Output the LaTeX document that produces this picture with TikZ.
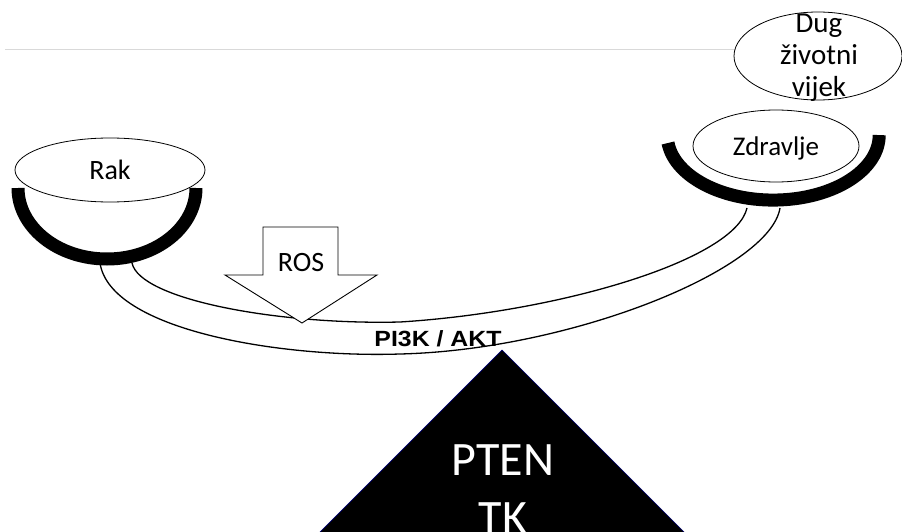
\documentclass[tikz,border=0pt]{standalone}
\usepackage{fontspec}
\setmainfont{Carlito}
\newfontfamily\arialfont{Liberation Sans}
\usetikzlibrary{shapes.geometric}

\begin{document}
\begin{tikzpicture}[
    x=1pt, y=-1pt,
    bubble/.style={draw, ellipse, inner sep=0pt, line width=0.8pt, font=\fontsize{28}{32}\selectfont},
    bowl/.style={line width=13pt},
    beam/.style={line width=1.3pt},
    txt/.style={inner sep=0pt, font=\fontsize{28}{32}\selectfont}
]
    \useasboundingbox (0,0) rectangle (902,532);
    \clip (0,0) rectangle (902,532);

    % faint line at the top
    \draw[black!15, line width=0.8pt] (5,49) -- (735,49);

    % left pan
    \node[bubble, minimum width=190pt, minimum height=64pt] (rak) at (110,170) {Rak};
    \draw[bowl] (18,188) arc[start angle=180, end angle=360, x radius=89pt, y radius=71pt];

    % right pan
    \node[bubble, minimum width=166pt, minimum height=72pt, text depth=0pt, font=\fontsize{27}{32}\selectfont] (health) at (776,146) {Zdravlje};
    \draw[bowl] (668,143) arc[start angle=187, end angle=360, x radius=106pt, y radius=65pt];
    \node[bubble, minimum width=168pt, minimum height=88pt] (longlife) at (818,56) {};
    \node[txt, font=\fontsize{29}{32}\selectfont, align=center, anchor=north] (longlifetext) at (819,14) {Dug\\životni\\vijek};

    % beam
    \draw[beam] (132,263) .. controls (140,300) and (280,325) .. (400,322)
                .. controls (560,312) and (735,260) .. (747,208);
    \draw[beam] (100,263) .. controls (110,330) and (280,358) .. (400,354)
                .. controls (570,350) and (770,270) .. (780,208);
    \node[inner sep=0pt, font=\arialfont\bfseries\fontsize{22}{26}\selectfont] (pathway) at (438,339) {\scalebox{1.13}[1]{PI3K / AKT}};

    % ROS arrow
    \coordinate (rostip) at (302,323);
    \draw[line width=0.9pt, fill=white] (263,227) -- (338,227) -- (338,275) -- (377,275) -- (rostip) -- (225,275) -- (263,275) -- cycle;
    \node[txt] (ros) at (301,263) {ROS};

    % fulcrum
    \coordinate (apex) at (502,350);
    \filldraw[fill=black, draw=blue!45!black, line width=0.7pt] (apex) -- (292,560) -- (712,560) -- cycle;
    \node[txt, text=white, font=\fontsize{48}{58}\selectfont, align=center, anchor=north] (pten) at (503,444) {PTEN\\TK};
\end{tikzpicture}
\end{document}
